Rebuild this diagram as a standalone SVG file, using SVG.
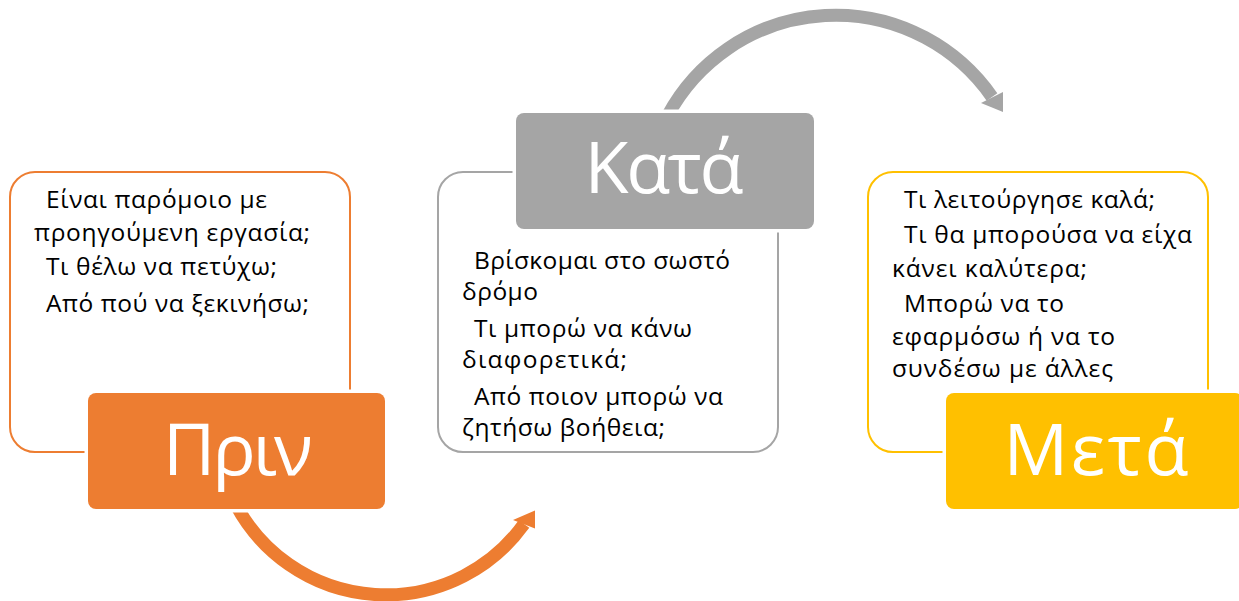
<svg xmlns="http://www.w3.org/2000/svg" width="1239" height="601" viewBox="0 0 1239 601">
<style>
.body{font-family:"Open Sans","Noto Sans","DejaVu Sans",sans-serif;font-size:24.5px;fill:#000}
.title{font-family:"Open Sans","Noto Sans","DejaVu Sans",sans-serif;font-size:72px;fill:#fff;text-anchor:middle}
.outline{fill:#fff;stroke-width:2}
.head{stroke:#fff;stroke-width:7;paint-order:stroke}
.arc{fill:none;stroke-width:13}
</style>
<rect width="1239" height="601" fill="#fff"/>
<g id="connectors">
  <path class="arc" stroke="#ED7D31" d="M236 505 A170 170 0 0 0 524 524"/>
  <polygon fill="#ED7D31" points="535,510.5 535,528.5 513,520"/>
  <path class="arc" stroke="#A5A5A5" stroke-width="12" d="M668 115 A190.6 190.6 0 0 1 992 97"/>
  <polygon fill="#A5A5A5" points="1003,92 1003,112 981,103"/>
</g>
<g id="node-prin">
  <rect class="outline" stroke="#ED7D31" x="10" y="172" width="340" height="280" rx="25"/>
  <text class="body" x="46" y="207.7" textLength="221" lengthAdjust="spacing">Είναι παρόμοιο με</text>
  <text class="body" x="34" y="240.5" textLength="276" lengthAdjust="spacing">προηγούμενη εργασία;</text>
  <text class="body" x="46" y="275" textLength="231" lengthAdjust="spacing">Τι θέλω να πετύχω;</text>
  <text class="body" x="46" y="311.7" textLength="263" lengthAdjust="spacing">Από πού να ξεκινήσω;</text>
  <rect class="head" fill="#ED7D31" x="88" y="393" width="297" height="116" rx="8"/>
  <text class="title" x="238" y="475" textLength="150" lengthAdjust="spacing">Πριν</text>
</g>
<g id="node-kata">
  <rect class="outline" stroke="#A5A5A5" x="438" y="172" width="340" height="280" rx="25"/>
  <text class="body" x="474" y="268.5" textLength="256" lengthAdjust="spacing">Βρίσκομαι στο σωστό</text>
  <text class="body" x="462" y="299.5" textLength="76" lengthAdjust="spacing">δρόμο</text>
  <text class="body" x="474" y="336.5" textLength="218" lengthAdjust="spacing">Τι μπορώ να κάνω</text>
  <text class="body" x="462" y="367.5" textLength="165" lengthAdjust="spacing">διαφορετικά;</text>
  <text class="body" x="474" y="405" textLength="249" lengthAdjust="spacing">Από ποιον μπορώ να</text>
  <text class="body" x="462" y="435.5" textLength="203" lengthAdjust="spacing">ζητήσω βοήθεια;</text>
  <rect class="head" fill="#A5A5A5" x="516" y="113" width="298" height="116" rx="8"/>
  <text class="title" x="664" y="193" textLength="159" lengthAdjust="spacing">Κατά</text>
</g>
<g id="node-meta">
  <rect class="outline" stroke="#FFC000" x="868" y="172" width="340" height="280" rx="25"/>
  <text class="body" x="904" y="207.7" textLength="251" lengthAdjust="spacing">Τι λειτούργησε καλά;</text>
  <text class="body" x="904" y="242.7" textLength="288" lengthAdjust="spacing">Τι θα μπορούσα να είχα</text>
  <text class="body" x="892" y="277" textLength="195" lengthAdjust="spacing">κάνει καλύτερα;</text>
  <text class="body" x="904" y="312.3" textLength="160" lengthAdjust="spacing">Μπορώ να το</text>
  <text class="body" x="892" y="344.5" textLength="223" lengthAdjust="spacing">εφαρμόσω ή να το</text>
  <text class="body" x="892" y="376.5" textLength="221" lengthAdjust="spacing">συνδέσω με άλλες</text>
  <rect class="head" fill="#FFC000" x="946" y="393" width="297" height="116" rx="8"/>
  <text class="title" x="1096" y="475" textLength="185" lengthAdjust="spacing">Μετά</text>
</g>
</svg>
